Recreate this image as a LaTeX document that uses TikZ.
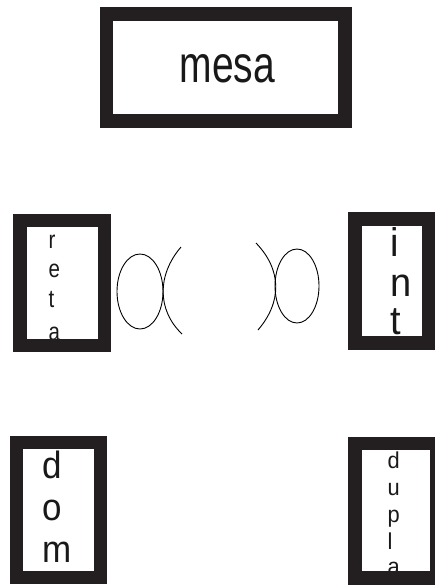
\documentclass[tikz,border=0pt]{standalone}
\usepackage{fontspec}
\setmainfont{Liberation Sans}
\definecolor{framec}{RGB}{35,31,32}
\begin{document}
\begin{tikzpicture}[x=1pt,y=-1pt,
  frame/.style={draw=framec,line width=13.5pt,line join=miter},
  curve/.style={draw=black,line width=0.9pt},
  lbl/.style={inner sep=0pt,anchor=base west,text=black!90},
  big/.style={inner sep=0pt,anchor=base,text=black!90,xscale=0.75,font=\fontsize{52}{52}\selectfont},
  retaf/.style={lbl,xscale=0.82,font=\fontsize{25}{25}\selectfont},
  intf/.style={lbl,xscale=0.95,font=\fontsize{40}{40}\selectfont},
  domf/.style={lbl,xscale=0.92,font=\fontsize{38}{38}\selectfont},
  duplaf/.style={lbl,xscale=0.95,font=\fontsize{23}{23}\selectfont}]
\fill[white] (0,0) rectangle (435,586);
\useasboundingbox (0,0) rectangle (435,586);
% mesa
\node[big] (mesa) at (227.5,82) {mesa};
\draw[frame] (106.5,14) rectangle (345,121);
% reta
\node[retaf] (r1) at (48.5,248) {r};
\node[retaf] (r2) at (48.5,277) {e};
\node[retaf] (r3) at (48.5,307) {t};
\node[retaf] (r4) at (48.5,340.5) {a};
\draw[frame] (20,220.5) rectangle (104.5,345.5);
% int
\node[intf] (i1) at (390.5,256) {i};
\node[intf] (i2) at (390.5,296) {n};
\node[intf] (i3) at (390.5,334) {t};
\draw[frame] (355,219) rectangle (428.5,343);
% dom
\node[domf] (d1) at (42.5,478) {d};
\node[domf] (d2) at (42.5,520) {o};
\node[domf] (d3) at (42.5,562) {m};
\draw[frame] (16.5,442.5) rectangle (100.5,577.5);
% dupla
\node[duplaf] (u1) at (387.5,468) {d};
\node[duplaf] (u2) at (387.5,495) {u};
\node[duplaf] (u3) at (387.5,522) {p};
\node[duplaf] (u4) at (387.5,549) {l};
\node[duplaf] (u5) at (387.5,574) {a};
\draw[frame] (355,443.5) rectangle (437,578);
% curves
\draw[curve] (140,291.5) ellipse [x radius=23,y radius=37.5];
\draw[curve] (181,247) .. controls (157,275) and (157,310) .. (182,334);
\draw[curve] (297,286) ellipse [x radius=22,y radius=37];
\draw[curve] (256,243) .. controls (282,270) and (282,302) .. (258,330);
\end{tikzpicture}
\end{document}
